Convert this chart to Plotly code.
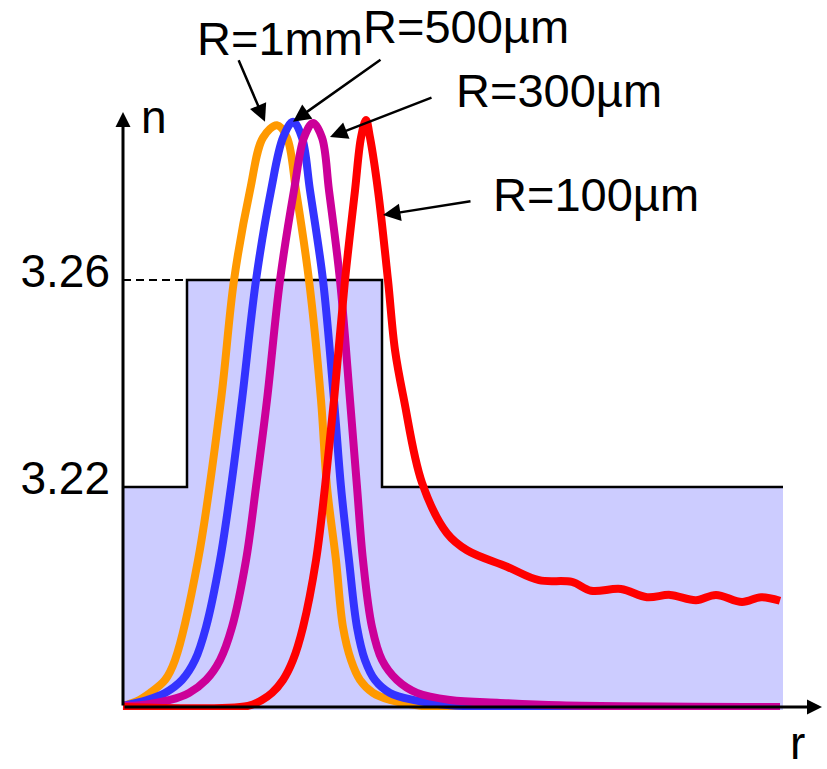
import plotly.graph_objects as go

# ---- step-index profile n(r) ----
r_profile = [0.0, 6.4, 6.4, 25.9, 25.9, 66.0]
n_profile = [3.22, 3.22, 3.26, 3.26, 3.22, 3.22]
r_dash = [0.0, 6.4]
n_dash = [3.26, 3.26]
n_ticks = [3.22, 3.26]
n_tick_text = ["3.22", "3.26"]

# ---- normalised mode intensity for each bend radius ----
r_1mm = [0.0, 1.4, 2.7, 4.2, 5.2, 7.5, 9.8, 11.1, 12.7, 14.0, 15.4, 16.4, 17.3, 18.6, 19.8,
         20.4, 21.3, 22.0, 22.8, 23.7, 25.0, 26.7, 29.7, 65.7]
I_1mm = [0.002, 0.010, 0.024, 0.046, 0.080, 0.250, 0.523, 0.727, 0.880, 0.970, 0.991, 0.970, 0.880, 0.727, 0.523,
         0.375, 0.250, 0.136, 0.080, 0.046, 0.024, 0.012, 0.002, 0.000]

r_500 = [0.0, 2.4, 4.2, 5.9, 7.2, 8.3, 9.7, 10.8, 11.9, 13.3, 14.8, 16.0, 17.0, 17.9, 18.7,
         20.0, 21.1, 21.8, 22.6, 23.4, 24.2, 25.2, 26.7, 29.0, 32.7, 65.7]
I_500 = [0.002, 0.012, 0.024, 0.046, 0.080, 0.136, 0.250, 0.375, 0.523, 0.727, 0.880, 0.970, 0.997, 0.970, 0.880,
         0.727, 0.523, 0.375, 0.250, 0.136, 0.080, 0.046, 0.024, 0.012, 0.003, 0.000]

r_300 = [0.0, 1.7, 4.7, 6.6, 8.3, 9.7, 10.9, 12.3, 13.3, 14.4, 15.7, 17.1, 18.1, 19.0, 19.9,
         20.6, 21.7, 22.7, 23.4, 24.0, 24.9, 25.9, 27.4, 29.4, 32.7, 37.7, 43.7, 65.7]
I_300 = [0.002, 0.003, 0.012, 0.024, 0.046, 0.080, 0.136, 0.250, 0.375, 0.523, 0.727, 0.880, 0.970, 0.995, 0.970,
         0.880, 0.727, 0.523, 0.375, 0.250, 0.136, 0.080, 0.046, 0.024, 0.012, 0.007, 0.003, 0.000]

r_100 = [0.0, 12.5, 13.9, 14.9, 16.0, 17.0, 18.0, 19.3, 20.2, 21.1, 22.2, 23.2, 23.8, 24.3, 24.7,
         25.5, 26.5, 27.2, 28.1, 29.9, 32.4, 34.4, 38.4, 41.6, 44.9, 46.8, 49.8, 52.4, 54.7,
         57.3, 59.3, 61.9, 63.8, 65.7]
I_100 = [0.000, 0.002, 0.012, 0.024, 0.046, 0.080, 0.136, 0.250, 0.375, 0.523, 0.727, 0.880, 0.970, 1.000, 0.970,
         0.880, 0.727, 0.608, 0.523, 0.382, 0.296, 0.267, 0.239, 0.216, 0.213, 0.198, 0.201, 0.187, 0.191,
         0.182, 0.191, 0.179, 0.187, 0.181]

series = [
    ("R=1mm", r_1mm, I_1mm, "#FF9900"),
    ("R=500µm", r_500, I_500, "#3333FF"),
    ("R=300µm", r_300, I_300, "#CC0099"),
    ("R=100µm", r_100, I_100, "#FF0000"),
]

FONT = "Liberation Sans, Arial, sans-serif"
N_MIN, N_MAX = 3.17691, 3.29478
I_MIN, I_MAX = -0.00511, 1.03407
N_BASE = 3.1775

fig = go.Figure()

fig.add_trace(go.Scatter(
    x=r_profile, y=n_profile, mode="lines", fill="tozeroy",
    fillcolor="#CCCCFF", line=dict(color="black", width=2.5),
    showlegend=False, hoverinfo="skip", yaxis="y"))
fig.add_trace(go.Scatter(
    x=r_dash, y=n_dash, mode="lines",
    line=dict(color="black", width=2, dash="8px,5px"),
    showlegend=False, hoverinfo="skip", yaxis="y"))

for name, rr, ii, col in series:
    fig.add_trace(go.Scatter(
        x=rr, y=ii, mode="lines", name=name, yaxis="y2",
        line=dict(color=col, width=8, shape="spline", smoothing=1.0),
        showlegend=False))

ann = []
# axes arrows
ann.append(dict(x=0, y=3.29246, ax=0, ay=N_BASE, xref="x", yref="y", axref="x", ayref="y",
                text="", showarrow=True, arrowhead=2, arrowwidth=3, arrowsize=1, arrowcolor="black"))
ann.append(dict(x=69.9, y=N_BASE, ax=0, ay=N_BASE, xref="x", yref="y", axref="x", ayref="y",
                text="", showarrow=True, arrowhead=2, arrowwidth=3, arrowsize=1, arrowcolor="black"))
# axis titles
ann.append(dict(x=0.0484, y=0.9721, xref="paper", yref="paper", text="n", showarrow=False,
                xanchor="center", yanchor="middle", font=dict(size=46, color="black", family=FONT)))
ann.append(dict(x=0.9644, y=-0.0541, xref="paper", yref="paper", text="r", showarrow=False,
                xanchor="center", yanchor="middle", font=dict(size=46, color="black", family=FONT)))

# curve labels with pointer arrows
pointers = [
    ("R=1mm", 14.2, 0.997, -27, -63, 0.1067, 1.1000),
    ("R=500µm", 17.0, 0.997, 89, -63, 0.3430, 1.1213),
    ("R=300µm", 20.7, 0.971, 103, -40, 0.4745, 1.0148),
    ("R=100µm", 26.0, 0.838, 89, -14, 0.5280, 0.8443),
]
for label, px_, py_, dx, dy, tx, ty in pointers:
    ann.append(dict(x=px_, y=py_, xref="x", yref="y2", ax=dx, ay=dy, text="",
                    showarrow=True, arrowhead=2, arrowwidth=2.5, arrowsize=1.4, arrowcolor="black"))
    ann.append(dict(x=tx, y=ty, xref="paper", yref="paper", text=label, showarrow=False,
                    xanchor="left", yanchor="middle", font=dict(size=47, color="black", family=FONT)))

fig.update_layout(
    width=827, height=769,
    margin=dict(l=120, r=4, t=100, b=59),
    paper_bgcolor="white", plot_bgcolor="white",
    font=dict(family=FONT, size=46, color="black"),
    xaxis=dict(range=[-0.3, 70], visible=False),
    yaxis=dict(range=[N_MIN, N_MAX], tickvals=n_ticks, ticktext=n_tick_text,
               showgrid=False, zeroline=False, showline=False, ticks="",
               ticklabelstandoff=9, ticklabelshift=-9,
               tickfont=dict(size=46, family=FONT, color="black")),
    yaxis2=dict(range=[I_MIN, I_MAX], overlaying="y", visible=False),
    annotations=ann,
    showlegend=False,
)

fig.write_html("out.html")
